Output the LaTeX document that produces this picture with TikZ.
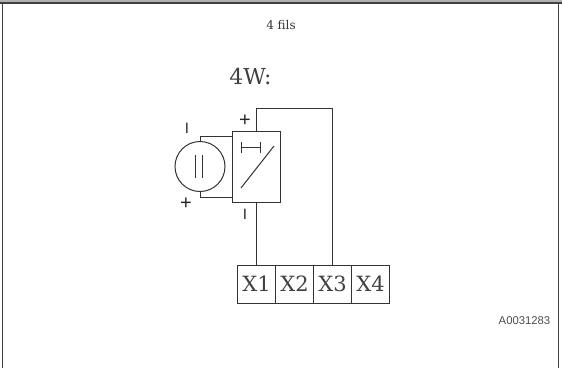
\documentclass[tikz,border=0pt]{standalone}
\usepackage{fontspec}
\setmainfont{DejaVu Serif}
\setsansfont{Liberation Sans}
\begin{document}
\begin{tikzpicture}[x=1pt,y=-1pt,
    wire/.style ={line width=1pt, black!80},
    terminal/.style ={rectangle, draw, line width=1pt, black!80, text=black!75, inner sep=0pt, minimum width=38pt, minimum height=38pt, font=\fontsize{21}{21}\selectfont},
    polarity/.style ={inner sep=0pt, text=black!85, font=\sffamily\fontsize{15}{15}\selectfont},
    plusmark/.style ={polarity, font=\sffamily\fontsize{20}{20}\selectfont}]
   \useasboundingbox (0,0) rectangle (562,368);
   % frame
   \fill[black!30] (0,0) rectangle (562,2);
   \draw[line width=1.2pt, black!75] (0,3) -- (562,3);
   \draw[line width=1.3pt, black!75] (2.5,3) -- (2.5,368);
   \draw[line width=1.2pt, black!75] (558.5,3) -- (558.5,368);
   % titles
   \node[inner sep=0pt, text=black!80, font=\fontsize{12}{12}\selectfont] (title) at (281,25) {4 fils};
   \node[inner sep=0pt, text=black!75, font=\fontsize{22}{22}\selectfont] (mode) at (250.5,76) {4W:};
   \node[inner sep=0pt, text=black!70, font=\sffamily\fontsize{11.3}{11.3}\selectfont] (code) at (524.5,321) {A0031283};
   % source and converter
   \node[circle, draw, wire, inner sep=0pt, minimum size=50pt] (source) at (200,166.5) {};
   \node[rectangle, draw, wire, inner sep=0pt, minimum width=48pt, minimum height=71pt] (conv) at (256.5,166.5) {};
   \draw[wire] (195.5,155) -- (195.5,178);
   \draw[wire] (202.5,155) -- (202.5,178);
   \draw[wire] (241,142) -- (241,153);
   \draw[wire] (260,142) -- (260,153);
   \draw[wire] (241,147.5) -- (260,147.5);
   \draw[wire] (241,188) -- (274,146);
   % terminals
   \node[terminal] (X1) at (256.5,284) {X1};
   \node[terminal] (X2) at (294.5,284) {X2};
   \node[terminal] (X3) at (332.5,284) {X3};
   \node[terminal] (X4) at (370.5,284) {X4};
   % wires
   \coordinate (top) at (0,136);
   \coordinate (bottom) at (0,197);
   \coordinate (bend) at (0,108);
   \draw[wire] (source.north) -- (source.north |- top) -- (conv.west |- top);
   \draw[wire] (source.south) -- (source.south |- bottom) -- (conv.west |- bottom);
   \draw[wire] (conv.north) -- (conv.north |- bend) -- (X3.north |- bend) -- (X3.north);
   \draw[wire] (conv.south) -- (X1.north);
   % polarity marks
   \node[plusmark] (plusconv) at (245,121) {+};
   \node[polarity] (minusconv) at (245,214) {I};
   \node[polarity] (minussource) at (187,128) {I};
   \node[plusmark] (plussource) at (186,204) {+};
 \end{tikzpicture}
\end{document}
